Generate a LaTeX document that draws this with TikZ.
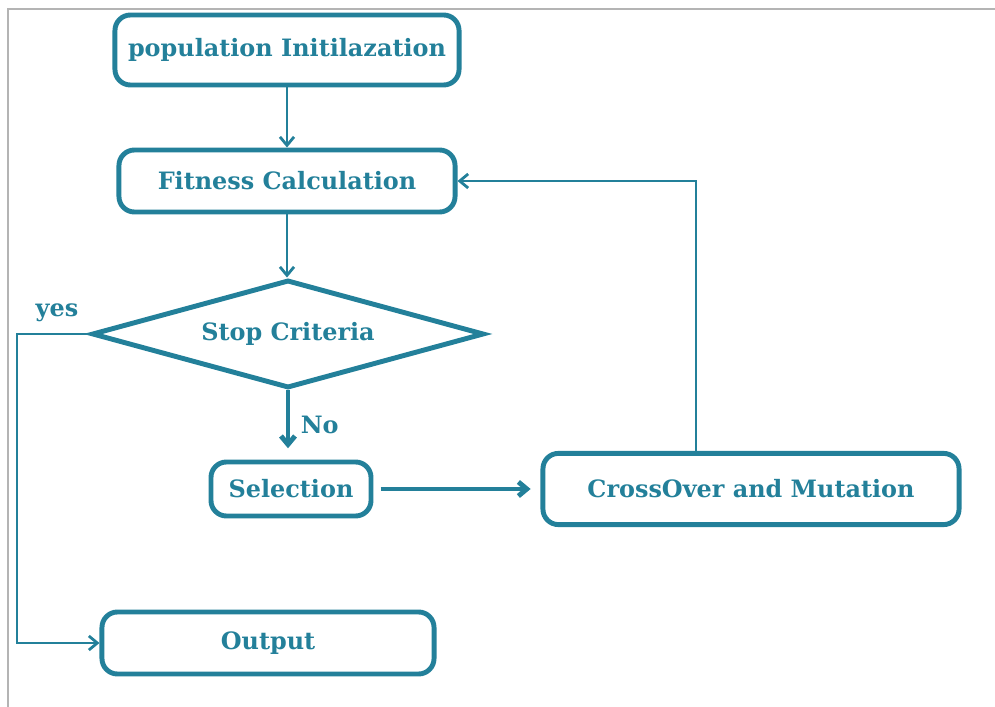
\documentclass[tikz,border=0pt]{standalone}
\usepackage{fontspec}
\setmainfont{DejaVu Serif}
\usepackage{xcolor}
\usepackage{tikz}
\usetikzlibrary{arrows.meta,positioning,shapes.geometric}
\definecolor{gaTeal}{HTML}{23809A}
\definecolor{frameGray}{HTML}{B4B4B4}

\begin{document}
\begin{tikzpicture}[x=0.025cm,y=-0.025cm,font=\fontsize{17}{20}\selectfont\bfseries,>={Straight Barb[length=6pt,width=10pt]},
  stepbox/.style={draw=gaTeal,line width=3.5pt,rounded corners=11pt,text=gaTeal,inner sep=0pt},
  decide/.style={draw=gaTeal,line width=3.5pt,diamond,shape aspect=3.6,text=gaTeal,inner sep=0pt,minimum width=9.8cm,minimum height=2.7cm},
  flow/.style={->,draw=gaTeal,line width=2pt},
  bigflow/.style={->,draw=gaTeal,line width=3.5pt},
  tag/.style={text=gaTeal}]
\useasboundingbox (0,0) rectangle (995,707);
% frame
\draw[frameGray,line width=1.4pt] (8,707) -- (8,9) -- (995,9);
% main column
\node[stepbox,minimum width=8.6cm,minimum height=1.75cm] (pop) at (287,50) {population Initilazation};
\node[stepbox,minimum width=8.4cm,minimum height=1.55cm] (fit) at (287,181) {Fitness Calculation};
\node[decide] (stop) at (288,334) {Stop Criteria};
\node[stepbox,minimum width=4.0cm,minimum height=1.35cm] (sel) at (291,489) {Selection};
\node[stepbox,minimum width=10.4cm,minimum height=1.78cm] (cross) at (751,489) {CrossOver and Mutation};
\node[stepbox,minimum width=8.3cm,minimum height=1.55cm] (out) at (268,643) {Output};
% loop back and exit
\coordinate (back) at (696,185);
\coordinate (exit) at (17,334);
\draw[flow] (pop) -- (fit);
\draw[flow] (fit) -- (fit |- stop.north);
\draw[bigflow,shorten >=8pt] (stop) -- node[tag,right=4pt] {No} (stop |- sel.north);
\draw[bigflow,shorten <=5pt,shorten >=7pt] (sel) -- (cross);
\draw[flow] (cross.north -| back) |- (fit.east);
\draw[flow] (stop.west) -- (exit) |- (out.west);
\node[tag] (yes) at (57,313) {yes};
\end{tikzpicture}
\end{document}
